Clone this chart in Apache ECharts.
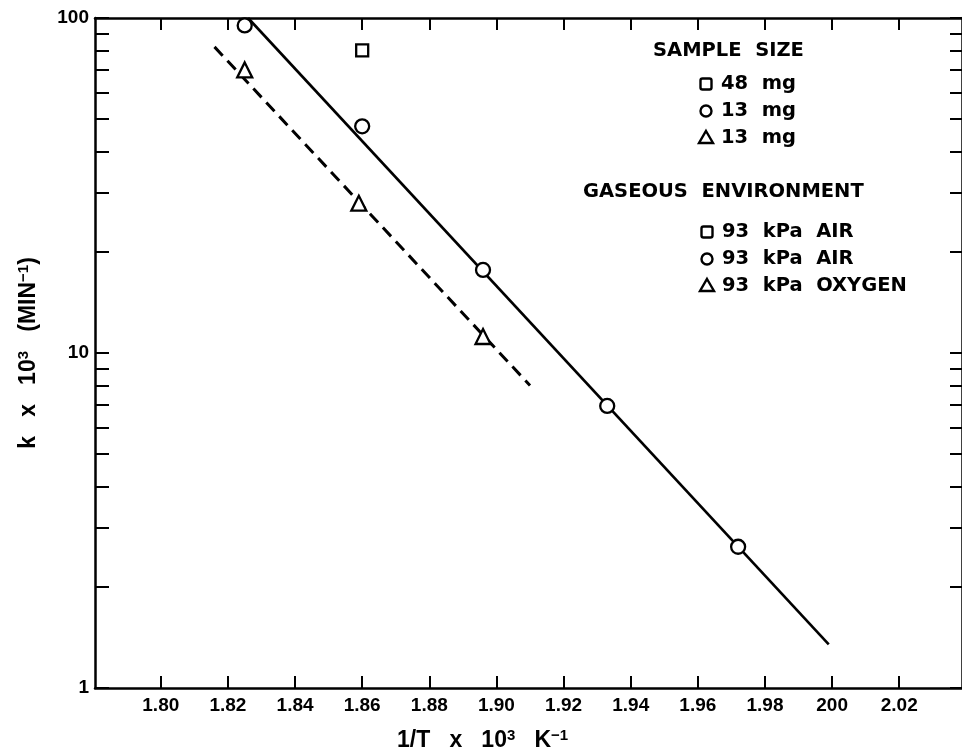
<!DOCTYPE html>
<html>
<head>
<meta charset="utf-8">
<script src="https://cdn.jsdelivr.net/npm/echarts@6/dist/echarts.min.js"></script>
<style>
  html, body { margin: 0; padding: 0; background: #fff; }
  #main { width: 962px; height: 752px; }
</style>
</head>
<body>
<div id="main"></div>
<script>
// tick values / labels (the original prints "200" for 2.00)
const xTickValues = [1.80, 1.82, 1.84, 1.86, 1.88, 1.90, 1.92, 1.94, 1.96, 1.98, 2.00, 2.02];
const xTickLabels = ['1.80', '1.82', '1.84', '1.86', '1.88', '1.90', '1.92', '1.94', '1.96', '1.98', '200', '2.02'];
const yTickValues = [1, 2, 3, 4, 5, 6, 7, 8, 9, 10, 20, 30, 40, 50, 60, 70, 80, 90, 100];
const yLabelValues = [1, 10, 100];

// measured points
const circleX = [1.825, 1.86, 1.896, 1.933, 1.972];
const circleY = [95, 47.5, 17.7, 6.95, 2.64];
const squareX = [1.86];
const squareY = [80];
const triangleX = [1.825, 1.859, 1.896];
const triangleY = [70, 28, 11.2];

// fitted lines
const airFitX = [1.826, 1.999];
const airFitY = [100, 1.35];
const oxygenFitX = [1.816, 1.910];
const oxygenFitY = [82, 8.0];

// legend text
const sampleSizeItems = [['rect', '48  mg'], ['circle', '13  mg'], ['triangle', '13  mg']];
const gasItems = [['rect', '93  kPa  AIR'], ['circle', '93  kPa  AIR'], ['triangle', '93  kPa  OXYGEN']];

const pairs = (xs, ys) => xs.map((x, i) => [x, ys[i]]);

const tickFont = '"Liberation Sans", Arial, sans-serif';
const legendFont = 'bold 19.5px "DejaVu Sans", sans-serif';

function legendSymbol(kind, cx, cy) {
  const style = { fill: '#fff', stroke: '#000', lineWidth: 2.4 };
  if (kind === 'rect') {
    return { type: 'rect', shape: { x: cx - 5.5, y: cy - 5.5, width: 11, height: 11, r: 2 }, style };
  }
  if (kind === 'circle') {
    return { type: 'circle', shape: { cx: cx, cy: cy, r: 5.5 }, style };
  }
  return { type: 'polygon', shape: { points: [[cx, cy - 7], [cx + 7, cy + 5], [cx - 7, cy + 5]] }, style };
}

function legendText(text, x, y) {
  return { type: 'text', x: x, y: y, style: { text: text, font: legendFont, fill: '#000', verticalAlign: 'middle' } };
}

const graphics = [];
graphics.push(legendText('SAMPLE  SIZE', 653, 51));
sampleSizeItems.forEach((it, i) => {
  const y = 84 + i * 27;
  graphics.push(legendSymbol(it[0], 706, y));
  graphics.push(legendText(it[1], 721, y));
});
graphics.push(legendText('GASEOUS  ENVIRONMENT', 583, 192));
gasItems.forEach((it, i) => {
  const y = 232 + i * 27;
  graphics.push(legendSymbol(it[0], 707, y));
  graphics.push(legendText(it[1], 722, y));
});
// x axis title
graphics.push({
  type: 'text', x: 397, y: 741,
  style: {
    text: '1/T   x   10{sup|3}   K{sup|−1}',
    font: 'bold 23px ' + tickFont,
    fill: '#000',
    verticalAlign: 'middle',
    rich: {
      sup: { font: 'bold 15px ' + tickFont, fill: '#000', verticalAlign: 'top', lineHeight: 26 }
    }
  }
});

const axisLine = { show: true, lineStyle: { color: '#000', width: 2.5 } };
const tickStyle = { color: '#000', width: 2 };
const markerStyle = { color: '#fff', borderColor: '#000', borderWidth: 2.3, opacity: 1 };

let myChart = echarts.init(document.getElementById('main'));
myChart.setOption({
  animation: false,
  backgroundColor: '#fff',
  grid: { left: 95, right: -3, top: 18, bottom: 64 },
  xAxis: [
    {
      type: 'value',
      min: 1.7804,
      max: 2.0387,
      axisLine: axisLine,
      splitLine: { show: false },
      axisTick: { inside: true, length: 12, lineStyle: tickStyle, customValues: xTickValues },
      axisLabel: {
        customValues: xTickValues,
        margin: 8,
        color: '#000',
        fontSize: 19,
        fontWeight: 'bold',
        fontFamily: tickFont,
        formatter: function (v) {
          const i = xTickValues.findIndex(t => Math.abs(t - v) < 1e-6);
          return i >= 0 ? xTickLabels[i] : '';
        }
      }
    },
    {
      type: 'value',
      position: 'top',
      min: 1.7804,
      max: 2.0387,
      axisLine: axisLine,
      splitLine: { show: false },
      axisTick: { inside: true, length: 12, lineStyle: tickStyle, customValues: xTickValues },
      axisLabel: { show: false }
    }
  ],
  yAxis: [
    {
      type: 'log',
      logBase: 10,
      min: 1,
      max: 100,
      name: 'k   x   10{sup|3}   (MIN{sup|−1})',
      nameLocation: 'middle',
      nameGap: 53,
      nameTextStyle: {
        fontSize: 23,
        fontWeight: 'bold',
        fontFamily: tickFont,
        color: '#000',
        rich: {
          sup: { fontSize: 15, fontWeight: 'bold', fontFamily: tickFont, color: '#000', verticalAlign: 'top', lineHeight: 26 }
        }
      },
      axisLine: axisLine,
      splitLine: { show: false },
      minorTick: { show: false },
      axisTick: { inside: true, length: 14, lineStyle: tickStyle, customValues: yTickValues },
      axisLabel: {
        customValues: yLabelValues,
        margin: 6,
        color: '#000',
        fontSize: 19,
        fontWeight: 'bold',
        fontFamily: tickFont
      }
    },
    {
      type: 'log',
      logBase: 10,
      position: 'right',
      min: 1,
      max: 100,
      axisLine: axisLine,
      splitLine: { show: false },
      axisTick: { inside: true, length: 12, lineStyle: tickStyle, customValues: yTickValues },
      axisLabel: { show: false }
    }
  ],
  series: [
    {
      name: 'air fit',
      type: 'line',
      data: pairs(airFitX, airFitY),
      showSymbol: false,
      symbol: 'none',
      lineStyle: { color: '#000', width: 2.6 },
      z: 2
    },
    {
      name: 'oxygen fit',
      type: 'line',
      data: pairs(oxygenFitX, oxygenFitY),
      showSymbol: false,
      symbol: 'none',
      lineStyle: { color: '#000', width: 3, type: [12, 7] },
      z: 2
    },
    {
      name: '48 mg, 93 kPa air',
      type: 'scatter',
      data: pairs(squareX, squareY),
      symbol: 'rect',
      symbolSize: 12,
      itemStyle: markerStyle,
      z: 3
    },
    {
      name: '13 mg, 93 kPa air',
      type: 'scatter',
      data: pairs(circleX, circleY),
      symbol: 'circle',
      symbolSize: 14,
      itemStyle: markerStyle,
      z: 3
    },
    {
      name: '13 mg, 93 kPa oxygen',
      type: 'scatter',
      data: pairs(triangleX, triangleY),
      symbol: 'triangle',
      symbolSize: 15,
      itemStyle: markerStyle,
      z: 3
    }
  ],
  graphic: graphics
});
</script>
</body>
</html>
